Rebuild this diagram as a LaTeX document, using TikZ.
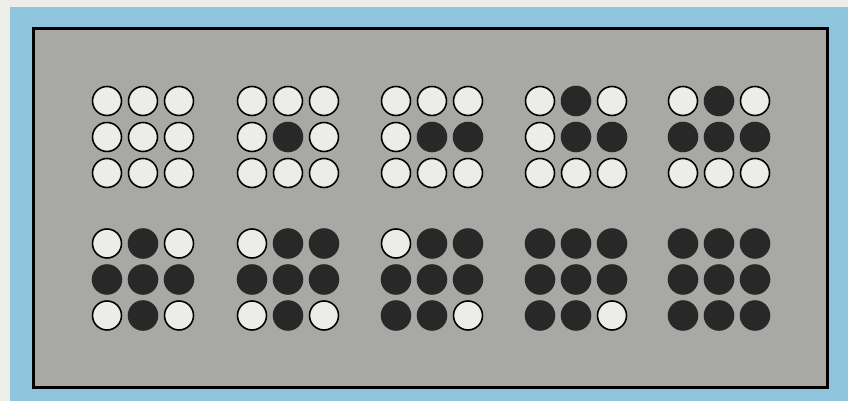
\documentclass[tikz,border=0pt]{standalone}
\usepackage{xcolor}
\usepackage{tikz}
\usetikzlibrary{positioning}

\definecolor{paper}{RGB}{238,238,232}
\definecolor{frameblue}{RGB}{142,196,220}
\definecolor{panelgray}{RGB}{168,168,164}
\definecolor{dotwhite}{RGB}{236,236,234}
\definecolor{dotblack}{RGB}{40,40,40}

\begin{document}
\begin{tikzpicture}[
  x=0.02cm, y=-0.02cm,
  panel/.style={draw=black, fill=panelgray, line width=1.7pt},
  dot0/.style={circle, draw=black, fill=dotwhite, line width=0.9pt,
    minimum size=0.58cm, inner sep=0pt},
  dot1/.style={circle, draw=dotblack, fill=dotblack, line width=0.9pt,
    minimum size=0.58cm, inner sep=0pt}
]
\useasboundingbox[fill=paper] (0,0) rectangle (848,401);
\fill[frameblue] (10,7) rectangle (848,401);
\node[panel, minimum width=15.9cm, minimum height=7.18cm, inner sep=0pt]
  (board) at (430.5,208) {};

% one 3x3 group per entry: name / x / y / dots row by row from the top
\foreach \g/\gx/\gy/\bits in {
    a/143/137/{0,0,0,0,0,0,0,0,0},
    b/288/137/{0,0,0,0,1,0,0,0,0},
    c/432/137/{0,0,0,0,1,1,0,0,0},
    d/576/137/{0,1,0,0,1,1,0,0,0},
    e/719/137/{0,1,0,1,1,1,0,0,0},
    f/143/279.5/{0,1,0,1,1,1,0,1,0},
    g/288/279.5/{0,1,1,1,1,1,0,1,0},
    h/432/279.5/{0,1,1,1,1,1,1,1,0},
    i/576/279.5/{1,1,1,1,1,1,1,1,0},
    j/719/279.5/{1,1,1,1,1,1,1,1,1}} {
  \foreach \b [count=\k from 0] in \bits {
    \pgfmathtruncatemacro\col{mod(\k,3)}
    \pgfmathtruncatemacro\row{div(\k,3)}
    \node[dot\b] (\g\k) at (\gx+36*\col-36, \gy+36*\row-36) {};
  }
}
\end{tikzpicture}
\end{document}
